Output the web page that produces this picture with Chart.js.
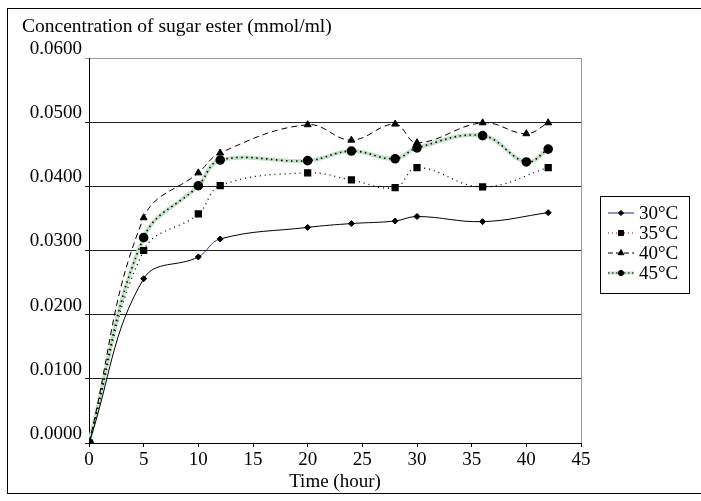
<!DOCTYPE html>
<html>
<head>
<meta charset="utf-8">
<script src="https://cdn.jsdelivr.net/npm/chart.js@4.4.0/dist/chart.umd.min.js"></script>
<style>
  html, body { margin: 0; padding: 0; background: #fff; }
  #wrap { position: relative; width: 701px; height: 501px; }
</style>
</head>
<body>
<div id="wrap"><canvas id="grafico" width="701" height="501"></canvas></div>
<script>
//Data
    var horas = [0, 5, 10, 12, 20, 24, 28, 30, 36, 40, 42];
    var c30 = [0, 0.0256, 0.0290, 0.0318, 0.0336, 0.0342, 0.0346, 0.0353, 0.0345, null, 0.0359];
    var c35 = [0, 0.0300, 0.0357, 0.0401, 0.0421, 0.0410, 0.0398, 0.0429, 0.0399, null, 0.0429];
    var c40 = [0, 0.0351, 0.0421, 0.0452, 0.0496, 0.0472, 0.0497, 0.0468, 0.0499, 0.0482, 0.0499];
    var c45 = [0, 0.0320, 0.0401, 0.0441, 0.0440, 0.0455, 0.0443, 0.0460, 0.0479, 0.0438, 0.0458];
    var series = ["30°C", "35°C", "40°C", "45°C"];
    var yTicks = [0, 0.01, 0.02, 0.03, 0.04, 0.05, 0.06];
    var xTicks = [0, 5, 10, 15, 20, 25, 30, 35, 40, 45];
    var tituloY = "Concentration of sugar ester (mmol/ml)";
    var tituloX = "Time (hour)";

    var fuente = "'Liberation Serif', 'Times New Roman', serif";

//Helpers
    function puntos(valores){
        var arr = [];
        for(var i = 0; i < horas.length; i++){
            arr.push({x: horas[i], y: valores[i]});
        }
        return arr;
    }

//Frame, title and legend drawn on the canvas
    var marco = {
        id: "marco",
        beforeDraw: function(chart){
            var ctx = chart.ctx;
            ctx.save();
            ctx.fillStyle = "#fff";
            ctx.fillRect(0, 0, chart.width, chart.height);
            ctx.strokeStyle = "#000";
            ctx.lineWidth = 1;
            ctx.strokeRect(7.5, 8.5, 700, 485);
            ctx.fillStyle = "#000";
            ctx.font = "19.5px " + fuente;
            ctx.textBaseline = "alphabetic";
            ctx.fillText(tituloY, 22, 32);
            ctx.restore();
        },
        afterDraw: function(chart){
            var ctx = chart.ctx;
            var a = chart.chartArea;
            ctx.save();
            //right border of plot
            ctx.strokeStyle = "#999";
            ctx.lineWidth = 1;
            ctx.beginPath();
            ctx.moveTo(Math.round(a.right) + 0.5, a.top);
            ctx.lineTo(Math.round(a.right) + 0.5, a.bottom);
            ctx.stroke();
            //legend
            var lx = 600, ly = 196;
            ctx.strokeStyle = "#000";
            ctx.strokeRect(lx + 0.5, ly + 0.5, 89, 97);
            var estilos = [
                {color: "#1f2a80", dash: [], w: 1, punto: "rectRot", r: 2.6},
                {color: "#6b1a2a", dash: [1, 3], w: 1, punto: "rect", r: 3.6},
                {color: "#000", dash: [5, 3], w: 1, punto: "triangle", r: 3.4},
                {color: "#c2e2c6", dash: [], w: 3, punto: "circle", r: 2.6}
            ];
            for(var i = 0; i < series.length; i++){
                var y = ly + 17 + i * 20;
                var e = estilos[i];
                ctx.setLineDash(e.dash);
                ctx.strokeStyle = e.color;
                ctx.lineWidth = e.w;
                ctx.beginPath();
                ctx.moveTo(608, y);
                ctx.lineTo(634, y);
                ctx.stroke();
                if(i == 3){
                    ctx.setLineDash([1.5, 2.5]);
                    ctx.strokeStyle = "#000";
                    ctx.lineWidth = 1.2;
                    ctx.beginPath();
                    ctx.moveTo(608, y);
                    ctx.lineTo(634, y);
                    ctx.stroke();
                }
                ctx.setLineDash([]);
                ctx.fillStyle = "#000";
                ctx.strokeStyle = "#000";
                ctx.lineWidth = 1;
                Chart.helpers.drawPoint(ctx, {pointStyle: e.punto, radius: e.r, rotation: 0, borderWidth: 1}, 621, y);
                ctx.fillStyle = "#000";
                ctx.font = "19px " + fuente;
                ctx.textBaseline = "middle";
                ctx.fillText(series[i], 639, y + 1);
            }
            ctx.restore();
        }
    };

//Chart
    var grafico = new Chart(document.getElementById("grafico"), {
        type: "line",
        data: {
            datasets: [
                {
                    label: series[0], data: puntos(c30), order: 1,
                    borderColor: "#000", borderWidth: 1, tension: 0.4, spanGaps: true,
                    segment: {
                        borderColor: function(ctx){ return ctx.p0DataIndex == 2 ? "#2a36a0" : "#000"; }
                    },
                    pointStyle: "rectRot", pointRadius: 3, pointBackgroundColor: "#000", pointBorderColor: "#000"
                },
                {
                    label: series[1], data: puntos(c35), order: 2,
                    borderColor: "#000", borderWidth: 1.3, borderDash: [1, 4], tension: 0.4, spanGaps: true,
                    pointStyle: "rect", pointRadius: 4.2, pointBackgroundColor: "#000", pointBorderColor: "#000"
                },
                {
                    label: series[2], data: puntos(c40), order: 3,
                    borderColor: "#000", borderWidth: 1, borderDash: [6, 4], tension: 0.4, spanGaps: true,
                    pointStyle: "triangle", pointRadius: 4, pointBackgroundColor: "#000", pointBorderColor: "#000"
                },
                {
                    label: series[3], data: puntos(c45), order: 4,
                    borderColor: "#c2e2c6", borderWidth: 4, tension: 0.4, spanGaps: true,
                    pointStyle: "circle", pointRadius: 2.8, pointBackgroundColor: "#000", pointBorderColor: "#000"
                },
                {
                    //black dots over the green 45°C line
                    label: series[3] + " dots", data: puntos(c45), order: 0,
                    borderColor: "#000", borderWidth: 1.6, borderDash: [1.5, 3.5], tension: 0.4, spanGaps: true,
                    pointRadius: 0
                }
            ]
        },
        options: {
            responsive: false,
            animation: false,
            layout: { padding: { left: 9, right: 120, top: 58, bottom: 8 } },
            plugins: {
                legend: { display: false },
                tooltip: { enabled: false },
                title: { display: false }
            },
            scales: {
                x: {
                    type: "linear", min: 0, max: 45,
                    afterFit: function(s){ s.height = 50; },
                    afterBuildTicks: function(s){ s.ticks = xTicks.map(function(v){ return {value: v}; }); },
                    border: { color: "#000", width: 1 },
                    grid: { drawOnChartArea: false, drawTicks: true, tickLength: 4, color: "#000" },
                    ticks: { color: "#000", font: { family: fuente, size: 19 }, padding: 2, maxRotation: 0, autoSkip: false },
                    title: { display: true, text: tituloX, color: "#000", font: { family: fuente, size: 19 }, padding: { top: 0, bottom: 0 } }
                },
                y: {
                    min: 0, max: 0.06,
                    afterFit: function(s){ s.width = 80; },
                    afterBuildTicks: function(s){ s.ticks = yTicks.map(function(v){ return {value: v}; }); },
                    border: { color: "#000", width: 1 },
                    grid: {
                        color: function(c){ return c.tick && c.tick.value >= 0.059 ? "#999" : "#222"; },
                        tickLength: 4, drawTicks: true
                    },
                    ticks: {
                        color: "#000", font: { family: fuente, size: 19 }, padding: 3, labelOffset: -9,
                        callback: function(v){ return Number(v).toFixed(4); }
                    }
                }
            }
        },
        plugins: [marco]
    });
</script>
</body>
</html>
